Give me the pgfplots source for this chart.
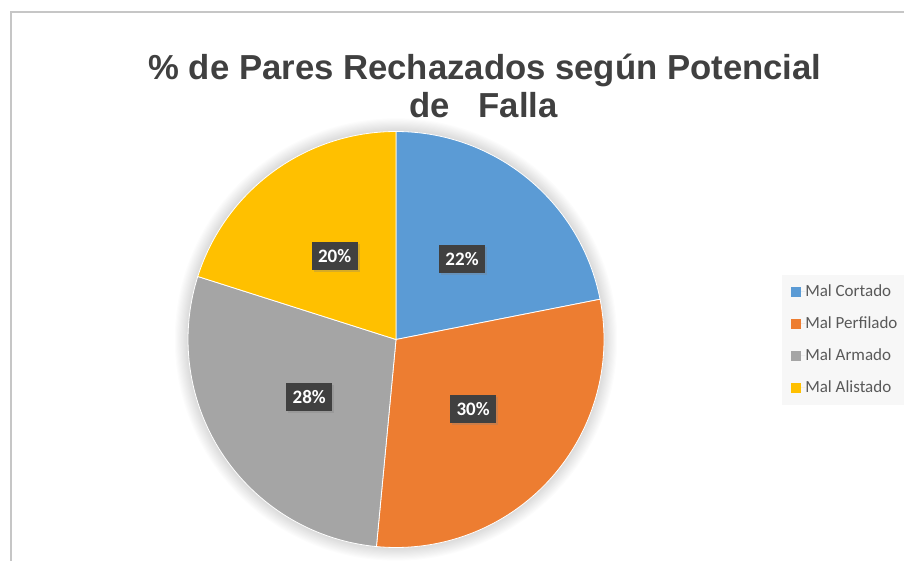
\documentclass[border=0pt]{standalone}
\usepackage{fontspec}
\usepackage{pgfplots}
\usepackage{pgfplotstable}
\pgfplotsset{compat=1.18}
\usetikzlibrary{shadows}
\setmainfont{Liberation Sans}
\newfontfamily\carlito{Carlito}
\definecolor{cblue}{HTML}{5B9BD5}
\definecolor{corange}{HTML}{ED7D31}
\definecolor{cgray}{HTML}{A5A5A5}
\definecolor{cyellow}{HTML}{FFC000}
\definecolor{ctitle}{HTML}{404040}
\definecolor{ctext}{HTML}{595959}
\definecolor{legbg}{HTML}{F7F7F7}
\definecolor{labbg}{HTML}{404040}
\definecolor{frame}{HTML}{C6C6C6}

\pgfplotstableread[col sep=comma]{
label,value,color
Mal Cortado,21.9,cblue
Mal Perfilado,29.6,corange
Mal Armado,28.4,cgray
Mal Alistado,20.1,cyellow
}\piedata

\begin{document}
\begin{tikzpicture}
\useasboundingbox (0,0) rectangle (904pt,560pt);
\draw[frame, line width=1.3pt] (11pt,-2pt) -- (11pt,548pt) -- (906pt,548pt);
\node[anchor=base, inner sep=0pt, text=ctitle, font=\fontsize{34.7}{40}\selectfont\bfseries] at (485pt,480pt) {\% de Pares Rechazados según Potencial};
\node[anchor=base, inner sep=0pt, text=ctitle, font=\fontsize{34.7}{40}\selectfont\bfseries] at (483.5pt,442pt) {de\ \ \ Falla};
\foreach \k in {1,...,12}{
  \fill[black, opacity=0.011] (396pt,220.5pt) circle ({208pt+1.1pt*\k});
}
\begin{axis}[
  at={(396pt,220.5pt)}, anchor=center,
  width=416pt, height=416pt, scale only axis, hide axis,
  xmin=-1, xmax=1, ymin=-1, ymax=1, clip=false,
  legend style={draw=none, fill=legbg, at={(1.428,0.656)}, anchor=north west,
    inner xsep=9pt, inner ysep=1pt, row sep=0pt,
    font=\carlito\fontsize{17}{20}\selectfont, text=ctext,
    nodes={inner xsep=0pt, inner ysep=0pt, minimum height=32pt}},
  legend cell align=left,
  legend image code/.code={\fill[#1, draw=none] (0pt,-5pt) rectangle (10pt,5pt); \path[draw=none] (0pt,0pt) -- (14pt,0pt);},
]
\def\cum{0}
\pgfplotsforeachungrouped \i in {0,...,3}{%
  \pgfplotstablegetelem{\i}{value}\of\piedata \let\sval\pgfplotsretval
  \pgfplotstablegetelem{\i}{color}\of\piedata \let\scol\pgfplotsretval
  \pgfplotstablegetelem{\i}{label}\of\piedata \let\slab\pgfplotsretval
  \pgfmathsetmacro\sa{90-3.6*\cum}%
  \pgfmathsetmacro\sb{90-3.6*(\cum+\sval)}%
  \pgfmathsetmacro\xa{cos(\sa)}%
  \pgfmathsetmacro\ya{sin(\sa)}%
  \edef\doslice{\noexpand\fill[fill=\scol, draw=white, line width=0.8pt] (axis cs:0,0) -- (axis cs:\xa,\ya) arc[start angle=\sa, end angle=\sb, radius=208pt] -- cycle;}%
  \doslice
  \edef\dolegend{\noexpand\addlegendimage{fill=\scol}\noexpand\addlegendentry{\slab}}%
  \dolegend
  \pgfmathsetmacro\cum{\cum+\sval}%
}
\def\cum{0}
\pgfplotsforeachungrouped \i in {0,...,3}{%
  \pgfplotstablegetelem{\i}{value}\of\piedata \let\sval\pgfplotsretval
  \pgfmathsetmacro\sm{90-3.6*(\cum+\sval/2)}%
  \pgfmathsetmacro\xm{0.5*cos(\sm)}%
  \pgfmathsetmacro\ym{0.5*sin(\sm)}%
  \pgfmathparse{round(\sval)}\pgfmathtruncatemacro\spct{\pgfmathresult}%
  \edef\dolabel{\noexpand\node[fill=labbg, text=white, font=\noexpand\carlito\noexpand\bfseries\noexpand\fontsize{19}{21}\noexpand\selectfont, minimum width=46pt, minimum height=28pt, inner sep=0pt, drop shadow={shadow xshift=2pt, shadow yshift=-2pt, opacity=0.3}] at (axis cs:\xm,\ym) {\spct\noexpand\%};}%
  \dolabel
  \pgfmathsetmacro\cum{\cum+\sval}%
}
\end{axis}
\end{tikzpicture}
\end{document}
